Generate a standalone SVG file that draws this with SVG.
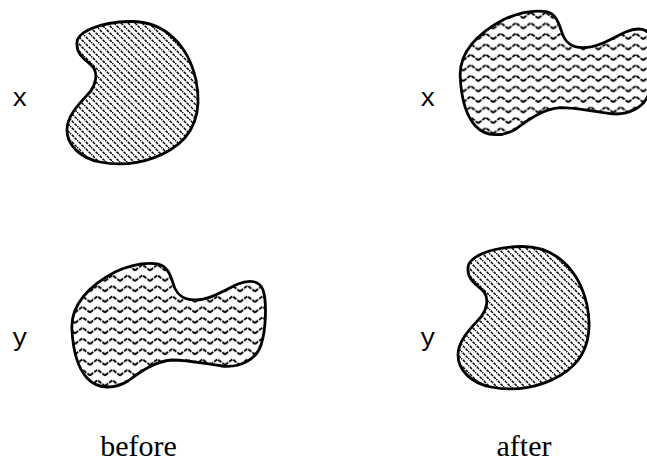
<svg xmlns="http://www.w3.org/2000/svg" width="647" height="463" viewBox="0 0 647 463">
<style>
.blob{stroke:#000;stroke-width:2.8;stroke-linejoin:round}
.lbl{font-family:"Liberation Mono","Courier New",monospace;font-size:26px;fill:#000}
.cap{font-family:"Liberation Serif","Times New Roman",serif;font-size:30px;fill:#000;text-anchor:middle}
</style>
<defs>
<pattern id="hatch" patternUnits="userSpaceOnUse" width="7" height="7">
<path d="M-1,-1 L8,8" stroke="#000" stroke-width="1.5" stroke-dasharray="3 1"/>
</pattern>
<pattern id="wave" patternUnits="userSpaceOnUse" width="15" height="10.5">
<path d="M0,8 L7.5,2.2 L15,8" fill="none" stroke="#000" stroke-width="1.9" stroke-linejoin="round" stroke-dasharray="4 1.2"/>
</pattern>
<path id="kidney" d="M77,45 C75,32 100,22 130,21.5 C165,21 188,45 196,80 C202,110 195,135 170,150 C150,162 125,167 100,162 C80,158 67,145 67,130 C67,115 80,103 90,92 C96,84 98,74 93,67 C88,61 77,56 77,45 Z"/>
<path id="cloud" d="M72,330 C70,305 90,285 115,272 C130,265 145,262 158,264 C167,266 170,274 173,283 C176,294 182,300 195,300 C210,300 225,290 238,284 C250,279 260,281 263,290 C267,302 266,330 261,345 C256,360 240,368 222,366 C205,364 190,360 172,360 C155,361 140,372 128,381 C115,389 98,390 87,378 C78,368 73,350 72,330 Z"/>
</defs>
<g id="before-x">
<use href="#kidney" class="blob" fill="url(#hatch)"/>
<text class="lbl" x="12" y="106">x</text>
</g>
<g id="before-y">
<use href="#cloud" class="blob" fill="url(#wave)"/>
<text class="lbl" x="12" y="346">y</text>
</g>
<g id="after-x">
<use href="#cloud" class="blob" fill="url(#wave)" transform="translate(388.3,-252.3)"/>
<text class="lbl" x="420" y="106">x</text>
</g>
<g id="after-y">
<use href="#kidney" class="blob" fill="url(#hatch)" transform="translate(391,225)"/>
<text class="lbl" x="420" y="346">y</text>
</g>
<g id="captions">
<text class="cap" x="138.5" y="456">before</text>
<text class="cap" x="524" y="456">after</text>
</g>
<g id="connectors"/>
</svg>
